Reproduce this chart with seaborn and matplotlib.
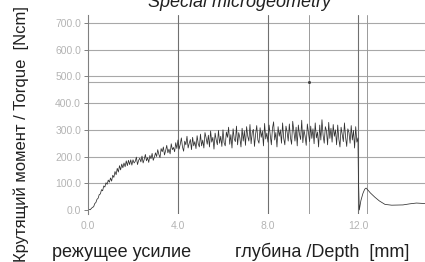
import numpy as np
import pandas as pd
import seaborn as sns
import matplotlib.pyplot as plt

# torque while cutting, sampled every 0.05 mm from 0.0 to 11.95 mm (one row per mm)
cut_step = 0.05
cut_torque = [
    0, 2, 1, 6, 10, 12, 24, 28, 40, 44, 58, 60, 76, 72, 90, 86, 102, 96, 112, 104,
    120, 108, 130, 122, 144, 132, 156, 142, 166, 150, 172, 158, 176, 162, 184, 166, 186, 170, 188, 168,
    188, 176, 182, 198, 170, 186, 194, 180, 202, 176, 190, 208, 184, 196, 178, 204, 192, 212, 186, 198,
    214, 200, 226, 208, 196, 230, 218, 236, 206, 222, 242, 214, 228, 210, 248, 226, 234, 218, 252, 230,
    262, 228, 246, 270, 236, 220, 258, 244, 276, 232, 250, 264, 226, 272, 240, 256, 230, 278, 248, 236,
    284, 240, 262, 232, 290, 270, 246, 280, 236, 296, 254, 272, 228, 288, 262, 244, 298, 250, 276, 238,
    300, 252, 240, 292, 272, 310, 246, 282, 232, 304, 266, 256, 314, 244, 290, 270, 236, 306, 258, 296,
    242, 312, 276, 258, 320, 248, 290, 302, 238, 284, 316, 262, 250, 308, 272, 296, 240, 324, 266, 288,
    254, 318, 282, 244, 306, 330, 262, 290, 236, 312, 276, 300, 250, 326, 268, 244, 314, 292, 258, 322,
    270, 246, 332, 296, 258, 310, 240, 318, 284, 264, 336, 252, 300, 276, 242, 322, 290, 256, 314, 268,
    304, 248, 326, 270, 292, 236, 318, 262, 338, 280, 250, 312, 296, 244, 328, 268, 306, 254, 320, 276,
    300, 244, 318, 266, 236, 310, 284, 256, 326, 272, 238, 304, 290, 250, 316, 262, 298, 232, 312, 254,
]

# drop at the end of the thread and the tail after it
tail_depth = [12.0, 12.02, 12.06, 12.13, 12.22, 12.3, 12.36, 12.45, 12.55, 12.75, 12.95, 13.2, 13.5, 14.0, 14.3, 14.6, 15.0]
tail_torque = [270, 120, 0, 35, 62, 78, 82, 74, 64, 48, 34, 21, 18, 19, 23, 26, 24]

cursor_depth = [9.82]
cursor_torque = [479]

title = "Special microgeometry"
y_label = "Крутящий момент / Torque  [Ncm]"
x_left_text = "режущее усилие"
x_right_text = "глубина /Depth  [mm]"
y_ticks = [0, 100, 200, 300, 400, 500, 600, 700]
x_ticks = [0, 4, 8, 12]
extra_h = [479]
minor_v = [9.82, 12.38]

depth = list(np.arange(len(cut_torque)) * cut_step) + tail_depth
torque = cut_torque + tail_torque
df = pd.DataFrame({"depth": depth, "torque": torque})

sns.set_theme(style="white")
plt.rcParams["font.family"] = ["Liberation Sans", "DejaVu Sans"]

fig = plt.figure(figsize=(4.25, 2.62), dpi=100)
ax = fig.add_axes([88 / 425, 1 - 214 / 262, 1 - 88 / 425, 199 / 262])

for yv in y_ticks[1:] + extra_h:
    ax.axhline(yv, color="#a8a8a8", lw=0.8, zorder=0)
for xv in x_ticks[1:]:
    ax.axvline(xv, color="#707070", lw=0.8, zorder=0)
for xv in minor_v:
    ax.axvline(xv, color="#9a9a9a", lw=0.7, zorder=0)

sns.lineplot(data=df, x="depth", y="torque", sort=False, estimator=None,
             color="#303030", lw=0.55, ax=ax)
sns.scatterplot(x=cursor_depth, y=cursor_torque, color="#404040", s=6, ax=ax, zorder=3)

ax.set_xlim(0, 14.98)
ax.set_ylim(-15, 730)
ax.set_xticks(x_ticks)
ax.set_xticklabels([f"{v:.1f}" for v in x_ticks])
ax.set_yticks(y_ticks)
ax.set_yticklabels([f"{v:.1f}" for v in y_ticks])
ax.tick_params(axis="both", labelsize=7.5, colors="#b4b4b4", length=3, width=0.7, pad=2)
ax.tick_params(axis="y", left=True, color="#808080")
ax.set_xlabel("")
ax.set_ylabel("")
for s in ["top", "right", "bottom"]:
    ax.spines[s].set_visible(False)
ax.spines["left"].set_color("#808080")
ax.spines["left"].set_linewidth(0.8)

fig.text(240 / 425, 1 - 7 / 262, title, ha="center", va="baseline",
         fontsize=13, style="italic", color="#202020")
fig.text(21 / 425, 1 - 134 / 262, y_label, rotation=90, ha="center", va="center",
         fontsize=12, color="#202020")
fig.text(52 / 425, 1 - 257 / 262, x_left_text, ha="left", va="baseline",
         fontsize=13, color="#202020")
fig.text(235 / 425, 1 - 257 / 262, x_right_text, ha="left", va="baseline",
         fontsize=13, color="#202020")

fig.savefig("out.png", dpi=100)
